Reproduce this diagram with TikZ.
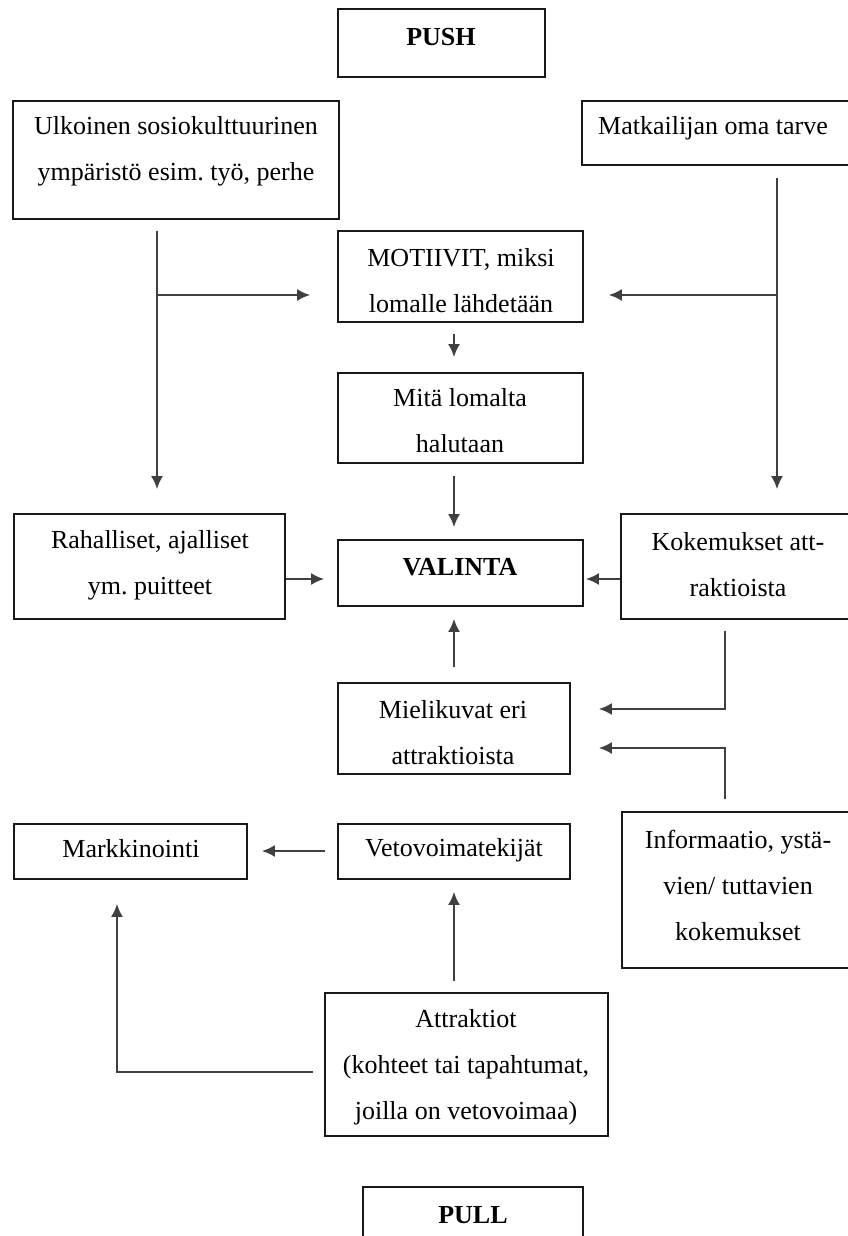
\documentclass[tikz,border=0pt]{standalone}
\usepackage{fontspec}
\setmainfont{Liberation Serif}
\usetikzlibrary{arrows.meta,fit}
\begin{document}
\frenchspacing
\begin{tikzpicture}[x=1pt,y=-1pt,
  box/.style={draw=black!90, line width=1.7pt, inner sep=0pt},
  txt/.style={align=center, inner sep=0pt, font=\fontsize{26}{46}\selectfont},
  conn/.style={draw=black!75, line width=2pt},
  arr/.style={conn, -{Latex[length=13pt,width=12pt]}},
]
\useasboundingbox (0,0) rectangle (848,1236);
\fill[white] (0,0) rectangle (848,1236);

% boxes
\node[box, fit={(338,9)(545,77)}] (push) {};
\node[box, fit={(13,101)(339,219)}] (ulk) {};
\node[box, fit={(582,101)(860,165)}] (matk) {};
\node[box, fit={(338,231)(583,322)}] (mot) {};
\node[box, fit={(338,373)(583,463)}] (mit) {};
\node[box, fit={(14,514)(285,619)}] (rah) {};
\node[box, fit={(338,540)(583,606)}] (val) {};
\node[box, fit={(621,514)(860,619)}] (kok) {};
\node[box, fit={(338,683)(570,774)}] (mie) {};
\node[box, fit={(14,824)(247,879)}] (mark) {};
\node[box, fit={(338,824)(570,879)}] (vet) {};
\node[box, fit={(622,812)(860,968)}] (inf) {};
\node[box, fit={(325,993)(608,1136)}] (att) {};
\node[box, fit={(363,1187)(583,1260)}] (pull) {};

% texts
\node[txt] (tpush) at (441,37) {\bfseries PUSH};
\node[txt] (tulk) at (176,151) {Ulkoinen sosiokulttuurinen\\ympäristö esim. työ, perhe};
\node[txt] (tmatk) at (713,128) {Matkailijan oma tarve};
\node[txt] (tmot) at (461,281) {MOTIIVIT, miksi\\lomalle lähdetään};
\node[txt] (tmit) at (460,421) {Mitä lomalta\\halutaan};
\node[txt] (trah) at (150,565) {Rahalliset, ajalliset\\ym. puitteet};
\node[txt] (tval) at (460,567) {\bfseries VALINTA};
\node[txt] (tkok) at (738,565) {Kokemukset att-\\raktioista};
\node[txt] (tmie) at (453,733) {Mielikuvat eri\\attraktioista};
\node[txt] (tmark) at (131,849) {Markkinointi};
\node[txt] (tvet) at (454,850) {Vetovoimatekijät};
\node[txt] (tinf) at (738,885) {Informaatio, ystä-\\vien/ tuttavien\\kokemukset};
\node[txt] (tatt) at (466,1067) {Attraktiot\\(kohteet tai tapahtumat,\\joilla on vetovoimaa)};
\node[txt] (tpull) at (473,1215) {\bfseries PULL};

% helper coordinates
\coordinate (L) at (157,295);
\coordinate (R) at (777,295);
\coordinate (C) at (454,0);
\coordinate (V) at (0,579);
\coordinate (K) at (725,709);
\coordinate (I) at (725,748);
\coordinate (M) at (117,1072);
\coordinate (H) at (0,851);

% connectors
\draw[arr, shorten <=11pt, shorten >=24pt] (L |- ulk.south) -- (L |- rah.north);
\draw[arr, shorten >=27pt] (L) -- (L -| mot.west);
\draw[arr, shorten <=12pt, shorten >=24pt] (R |- matk.south) -- (R |- kok.north);
\draw[arr, shorten >=25pt] (R) -- (R -| mot.east);
\draw[arr, shorten <=11pt, shorten >=15pt] (C |- mot.south) -- (C |- mit.north);
\draw[arr, shorten <=12pt, shorten >=12pt] (C |- mit.south) -- (C |- val.north);
\draw[arr, shorten >=13pt] (V -| rah.east) -- (V -| val.west);
\draw[arr, shorten >=2pt] (V -| kok.west) -- (V -| val.east);
\draw[arr, shorten <=15pt, shorten >=12pt] (C |- mie.north) -- (C |- val.south);
\draw[arr, shorten <=11pt, shorten >=28pt] (K |- kok.south) -- (K) -- (K -| mie.east);
\draw[arr, shorten <=12pt, shorten >=28pt] (I |- inf.north) -- (I) -- (I -| mie.east);
\draw[arr, shorten <=12pt, shorten >=14pt] (H -| vet.west) -- (H -| mark.east);
\draw[arr, shorten <=11pt, shorten >=12pt] (C |- att.north) -- (C |- vet.south);
\draw[arr, shorten <=11pt, shorten >=24pt] (M -| att.west) -- (M) -- (M |- mark.south);
\end{tikzpicture}
\end{document}
